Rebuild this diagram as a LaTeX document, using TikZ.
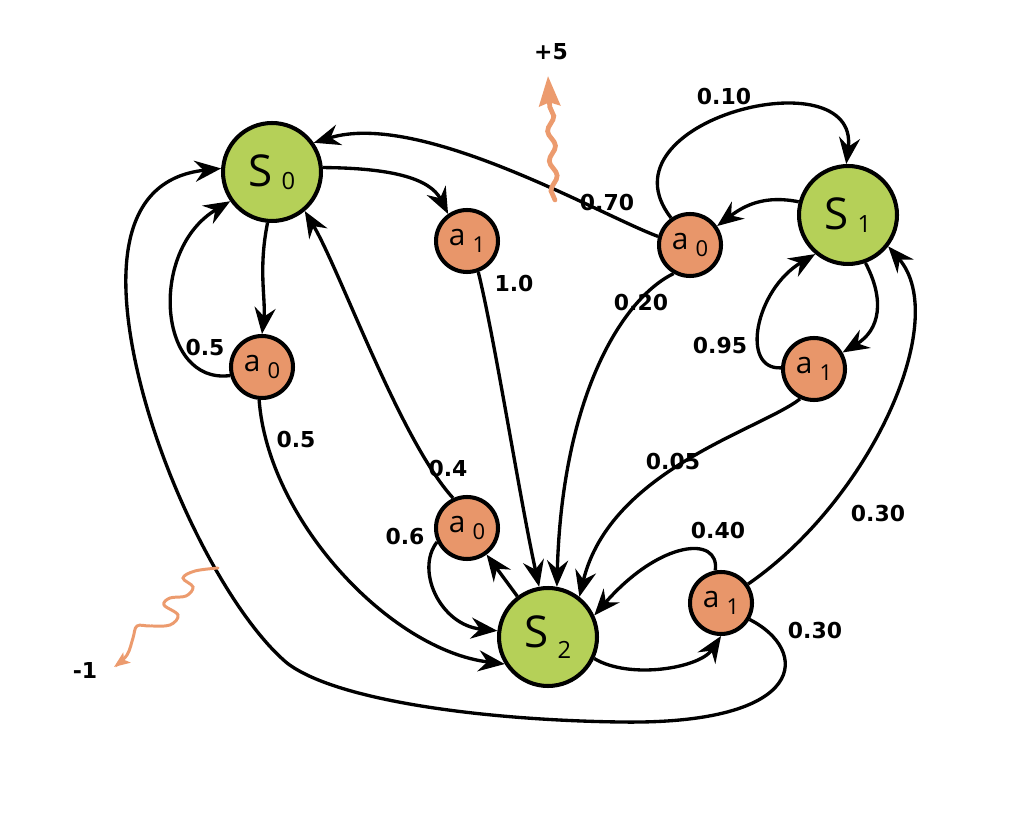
\documentclass[tikz,border=0pt]{standalone}
\usepackage{fontspec}
\setmainfont{Open Sans}
\newfontfamily\lblfont{DejaVu Sans}
\usetikzlibrary{arrows.meta,decorations.pathmorphing}
\definecolor{sgreen}{RGB}{181,208,88}
\definecolor{aorange}{RGB}{232,150,106}
\definecolor{rorange}{RGB}{236,155,110}
\newcommand{\stxt}[2]{{\fontsize{25}{25}\selectfont S}\kern5pt\raisebox{-#2pt}{\fontsize{13.5}{13.5}\selectfont #1}}
\newcommand{\atxt}[1]{{\fontsize{17}{17}\selectfont a}\kern4pt\raisebox{-4pt}{\fontsize{12.5}{12.5}\selectfont #1}}
\begin{document}
\begin{tikzpicture}[x=0.02cm,y=-0.02cm,
  state/.style={circle, draw, line width=2.3pt, fill=sgreen, minimum size=1.96cm, inner sep=0pt},
  act/.style={circle, draw, line width=2.3pt, fill=aorange, minimum size=1.24cm, inner sep=0pt},
  edge/.style={line width=1.9pt, -{Stealth[length=15pt,width=12pt,inset=5pt]}},
  lbl/.style={font={\lblfont\bfseries\fontsize{12.5}{14}\selectfont}, inner sep=1pt},
  rew/.style={rorange, line cap=round}]
\useasboundingbox (0,0) rectangle (1024,820);
% nodes
\node[state] (S0) at (272,172) {\stxt{0}{2}};
\node[state] (S1) at (848,215) {\stxt{1}{2}};
\node[state] (S2) at (548,637) {\stxt{2}{6}};
\node[act] (A1t) at (467,241) {\atxt{1}};
\node[act] (A0r) at (690,245) {\atxt{0}};
\node[act] (A0l) at (262,367) {\atxt{0}};
\node[act] (A1r) at (814,369) {\atxt{1}};
\node[act] (A0b) at (467,528) {\atxt{0}};
\node[act] (A1b) at (721,603) {\atxt{1}};
% S0 actions
\draw[edge] (S0.5) .. controls (390,168) and (430,178) .. (A1t.125);
\draw[edge] (A1t.-70) .. controls (495,340) and (520,500) .. (S2.100);
\draw[edge] (S0.-95) .. controls (258,270) and (266,300) .. (A0l.90);
\draw[edge] (A0l.195) .. controls (158,385) and (148,250) .. (S0.215);
\draw[edge] (A0l.-95) .. controls (268,520) and (390,650) .. (S2.212);
% S1 actions
\draw[edge] (S1.165) .. controls (765,195) and (745,205) .. (A0r.35);
\draw[edge] (A0r.165) .. controls (600,215) and (420,110) .. (S0.35);
\draw[edge] (A0r.-120) .. controls (620,300) and (562,400) .. (S2.80);
\draw[edge] (A0r.125) .. controls (595,120) and (860,55) .. (S1.92);
\draw[edge] (S1.-70) .. controls (885,300) and (880,330) .. (A1r.30);
\draw[edge] (A1r.178) .. controls (740,370) and (755,290) .. (S1.230);
\draw[edge] (A1r.-115) .. controls (760,430) and (610,470) .. (S2.52);
% S2 actions
\draw[edge] (S2.127) -- (A0b);
\draw[edge] (A0b.115) .. controls (400,440) and (340,270) .. (S0.-50);
\draw[edge] (A0b.205) .. controls (415,570) and (440,625) .. (S2.173);
\draw[edge] (S2.-25) .. controls (630,680) and (700,668) .. (A1b.-90);
\draw[edge] (A1b.100) .. controls (720,535) and (660,540) .. (S2.25);
\draw[edge] (A1b.35) .. controls (870,500) and (952,320) .. (S1.-38);
\draw[edge] (A1b.-30) .. controls (810,650) and (810,725) .. (620,722)
  .. controls (480,720) and (335,700) .. (287,663)
  .. controls (230,615) and (160,480) .. (135,360)
  .. controls (120,288) and (112,180) .. (S0.176);
% rewards
\coordinate (r5) at (555,200);
\coordinate (r5t) at (548,76);
\draw[rew, line width=2.7pt, -{Stealth[length=17pt,width=12pt,inset=2pt]}, decorate,
  decoration={snake, amplitude=2pt, segment length=17pt, post length=16pt}] (r5) -- (r5t);
\coordinate (r1) at (218,568);
\draw[rew, line width=1.7pt, -{Stealth[length=9pt,width=7pt,inset=2pt]}]
  plot[smooth, tension=0.6] coordinates {(r1) (195,571) (183,578) (193,587) (186,596) (170,598) (164,605) (178,615) (170,625) (150,626) (137,626) (133,638) (127,655) (114,667)};
% labels
\node[lbl] (l70) at (607,203) {0.70};
\node[lbl] (l10) at (724,97) {0.10};
\node[lbl] (l1) at (514,284) {1.0};
\node[lbl] (l20) at (641,303) {0.20};
\node[lbl] (l95) at (720,346) {0.95};
\node[lbl] (l5a) at (205,348) {0.5};
\node[lbl] (l5b) at (296,440) {0.5};
\node[lbl] (l05) at (673,462) {0.05};
\node[lbl] (l4) at (448,469) {0.4};
\node[lbl] (l6) at (405,537) {0.6};
\node[lbl] (l40) at (718,531) {0.40};
\node[lbl] (l30a) at (878,514) {0.30};
\node[lbl] (l30b) at (815,631) {0.30};
\node[lbl] (lp5) at (551,52) {+5};
\node[lbl] (lm1) at (85,670) {-1};
\end{tikzpicture}
\end{document}
